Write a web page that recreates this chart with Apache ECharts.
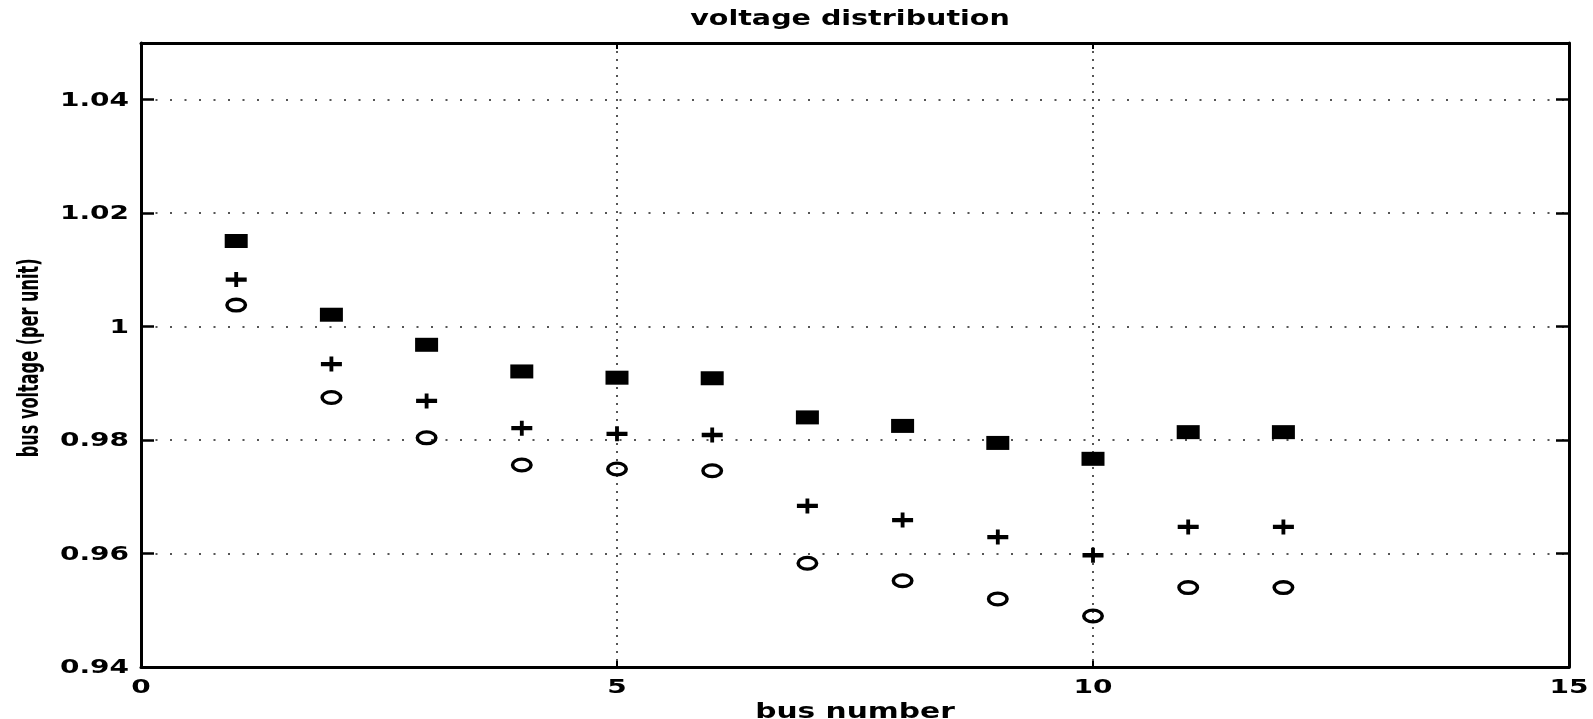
<!DOCTYPE html>
<html>
<head>
<meta charset="utf-8">
<script src="https://cdn.jsdelivr.net/npm/echarts@6/dist/echarts.min.js"></script>
<style>
html,body{margin:0;padding:0;background:#fff;}
#chart{width:1593px;height:719px;}
</style>
</head>
<body>
<div id="chart"></div>
<script>
// ---- data ----
const busNumbers = [1, 2, 3, 4, 5, 6, 7, 8, 9, 10, 11, 12];
const voltageHigh = [1.0151, 1.0021, 0.9968, 0.9921, 0.9910, 0.9909, 0.9840, 0.9825, 0.9795, 0.9767, 0.9814, 0.9814];
const voltageMid  = [1.0083, 0.9934, 0.9869, 0.9821, 0.9811, 0.9809, 0.9684, 0.9659, 0.9629, 0.9597, 0.9647, 0.9647];
const voltageLow  = [1.0038, 0.9875, 0.9804, 0.9756, 0.9749, 0.9746, 0.9583, 0.9552, 0.9520, 0.9490, 0.9540, 0.9540];
const xTickValues = [0, 5, 10, 15];
const xTickLabels = ['0', '5', '10', '15'];
const yTickValues = [0.94, 0.96, 0.98, 1.00, 1.02, 1.04];
const yTickLabels = ['0.94', '0.96', '0.98', '1', '1.02', '1.04'];
const titleText = 'voltage distribution';
const xName = 'bus number';
const yName = 'bus voltage (per unit)';

const X_MIN = 0, X_MAX = 15, X_INT = 5;
const Y_MIN = 0.94, Y_MAX = 1.05, Y_INT = 0.02;

const pair = arr => busNumbers.map((b, i) => [b, arr[i]]);
const FONT = '"DejaVu Sans", "Liberation Sans", sans-serif';

const chart = echarts.init(document.getElementById('chart'), null, {renderer: 'canvas'});

const axisLineStyle = {show: true, onZero: false, lineStyle: {color: '#000', width: 3}};

const option = {
  backgroundColor: '#fff',
  animation: false,
  grid: {left: 141, right: 24, top: 43, bottom: 52, containLabel: false, outerBoundsMode: 'none'},
  xAxis: [
    {
      type: 'value', position: 'bottom', min: X_MIN, max: X_MAX, interval: X_INT,
      axisLine: axisLineStyle,
      axisTick: {show: true, inside: true, length: 6, lineStyle: {color: '#000', width: 2}},
      axisLabel: {show: false},
      splitLine: {show: true, lineStyle: {color: '#555', width: 2, type: [2, 6]}}
    },
    {
      type: 'value', position: 'top', min: X_MIN, max: X_MAX, interval: X_INT,
      axisLine: axisLineStyle,
      axisTick: {show: true, inside: true, length: 6, lineStyle: {color: '#000', width: 2}},
      axisLabel: {show: false},
      splitLine: {show: false}
    }
  ],
  yAxis: [
    {
      type: 'value', position: 'left', min: Y_MIN, max: Y_MAX, interval: Y_INT,
      axisLine: axisLineStyle,
      axisTick: {show: true, inside: true, length: 13, lineStyle: {color: '#000', width: 2.5}},
      axisLabel: {show: false},
      splitLine: {show: true, lineStyle: {color: '#555', width: 2, type: [2, 12.5]}}
    },
    {
      type: 'value', position: 'right', min: Y_MIN, max: Y_MAX, interval: Y_INT,
      axisLine: axisLineStyle,
      axisTick: {show: true, inside: true, length: 13, lineStyle: {color: '#000', width: 2.5}},
      axisLabel: {show: false},
      splitLine: {show: false}
    }
  ],
  series: [
    {
      name: 'high', type: 'scatter', xAxisIndex: 0, yAxisIndex: 0,
      data: pair(voltageHigh),
      symbol: 'rect', symbolSize: [23, 14],
      itemStyle: {color: '#000', opacity: 1}
    },
    {
      name: 'mid', type: 'scatter', xAxisIndex: 0, yAxisIndex: 0,
      data: pair(voltageMid),
      symbol: 'path://M8,0H12V5H21V9H12V14H8V9H-1V5H8Z', symbolSize: [21, 15], symbolKeepAspect: false,
      itemStyle: {color: '#000', opacity: 1}
    },
    {
      name: 'low', type: 'scatter', xAxisIndex: 0, yAxisIndex: 0,
      data: pair(voltageLow),
      symbol: 'path://M0,7.5a11,7.5 0 1,0 22,0a11,7.5 0 1,0 -22,0ZM3.5,7.5a7.5,4.2 0 1,1 15,0a7.5,4.2 0 1,1 -15,0Z',
      symbolSize: [22, 15], symbolKeepAspect: false,
      itemStyle: {color: '#000', opacity: 1}
    }
  ]
};

chart.setOption(option);

// ---- text drawn through the grid's own scale ----
const toPx = (x, y) => chart.convertToPixel({xAxisIndex: 0, yAxisIndex: 0}, [x, y]);
const graphics = [];
yTickValues.forEach((v, i) => {
  const p = toPx(X_MIN, v);
  graphics.push({
    type: 'text', x: p[0] - 12, y: p[1] + 1, scaleX: 1.4, scaleY: 1,
    style: {text: yTickLabels[i], font: 'bold 20px ' + FONT, fill: '#000',
            align: 'right', verticalAlign: 'middle', textAlign: 'right', textVerticalAlign: 'middle'}
  });
});
xTickValues.forEach((v, i) => {
  const p = toPx(v, Y_MIN);
  graphics.push({
    type: 'text', x: p[0], y: p[1] + 21, scaleX: 1.4, scaleY: 1,
    style: {text: xTickLabels[i], font: 'bold 20px ' + FONT, fill: '#000',
            align: 'center', verticalAlign: 'middle', textAlign: 'center', textVerticalAlign: 'middle'}
  });
});
const tl = toPx((X_MIN + X_MAX) / 2, Y_MAX);
graphics.push({
  type: 'text', x: tl[0] - 5, y: tl[1] - 23, scaleX: 1.36, scaleY: 1,
  style: {text: titleText, font: 'bold 21px ' + FONT, fill: '#000',
          align: 'center', verticalAlign: 'middle', textAlign: 'center', textVerticalAlign: 'middle'}
});
const bl = toPx((X_MIN + X_MAX) / 2, Y_MIN);
graphics.push({
  type: 'text', x: bl[0], y: bl[1] + 45, scaleX: 1.35, scaleY: 1,
  style: {text: xName, font: 'bold 22px ' + FONT, fill: '#000',
          align: 'center', verticalAlign: 'middle', textAlign: 'center', textVerticalAlign: 'middle'}
});
const yl = toPx(X_MIN, 0.9945);
graphics.push({
  type: 'text', x: 31, y: yl[1], rotation: Math.PI / 2, scaleX: 0.62, scaleY: 1.1,
  style: {text: yName, font: 'bold 26px ' + FONT, fill: '#000',
          align: 'center', verticalAlign: 'middle', textAlign: 'center', textVerticalAlign: 'middle'}
});
chart.setOption({graphic: graphics});
</script>
</body>
</html>
